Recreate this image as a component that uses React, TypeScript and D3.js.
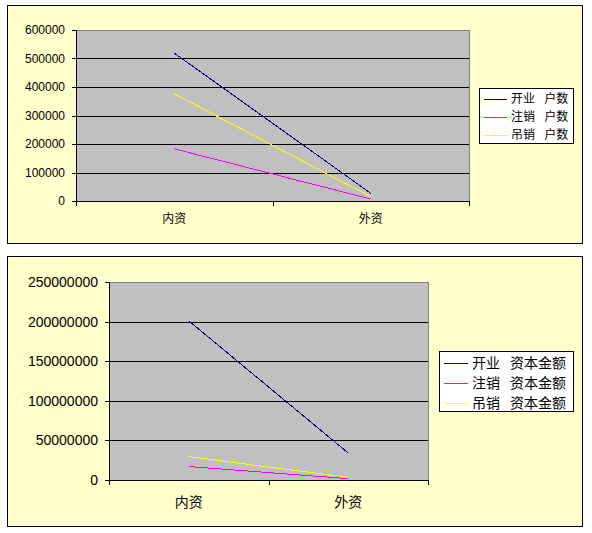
import React from "react";
import * as d3 from "d3";

const categories = ["内资", "外资"];
const seriesNames1 = ["开业 户数", "注销 户数", "吊销 户数"];
const openCount = [519000, 27000];
const cancelCount = [183000, 7000];
const revokeCount = [376000, 15000];
const yTicks1 = [0, 100000, 200000, 300000, 400000, 500000, 600000];

const seriesNames2 = ["开业 资本金额", "注销 资本金额", "吊销 资本金额"];
const openCapital = [201000000, 34000000];
const cancelCapital = [17000000, 1700000];
const revokeCapital = [29500000, 3400000];
const yTicks2 = [0, 50000000, 100000000, 150000000, 200000000, 250000000];

const seriesColors = ["#000080", "#FF00FF", "#FFFF00"];

type Geo = {
  box: [number, number, number, number];
  plot: [number, number, number, number];
  fontSize: number;
  catY: number;
  legend: [number, number, number, number];
  rowY: number[];
  sample: [number, number];
  textX: number;
};

function Chart({ geo, names, data, ticks }: { geo: Geo; names: string[]; data: number[][]; ticks: number[] }) {
  const [L, T, R, B] = geo.plot;
  const x = d3.scaleBand<string>().domain(categories).range([L, R]);
  const y = d3.scaleLinear().domain([0, ticks[ticks.length - 1]]).range([B, T]);
  const line = d3
    .line<number>()
    .x((_, i) => (x(categories[i]) as number) + x.bandwidth() / 2)
    .y((v) => y(v));
  const font = "'Liberation Sans', Arial, 'Noto Sans CJK SC', sans-serif";
  const bx = geo.box;
  const lg = geo.legend;
  return (
    <g fontFamily={font} fontSize={geo.fontSize} fill="#000">
      <rect x={bx[0] + 0.5} y={bx[1] + 0.5} width={bx[2] - bx[0]} height={bx[3] - bx[1]} fill="#FFFFCC" stroke="#000" />
      <rect x={L} y={T} width={R - L} height={B - T} fill="#C0C0C0" />
      <line x1={L} x2={R + 0.5} y1={T + 0.5} y2={T + 0.5} stroke="#808080" />
      <line x1={R + 0.5} x2={R + 0.5} y1={T} y2={B} stroke="#808080" />
      {ticks.slice(1, -1).map((t) => (
        <line key={t} x1={L} x2={R} y1={Math.round(y(t)) + 0.5} y2={Math.round(y(t)) + 0.5} stroke="#000" />
      ))}
      {ticks.map((t) => (
        <g key={"t" + t}>
          <line x1={L - 4} x2={L} y1={Math.round(y(t)) + 0.5} y2={Math.round(y(t)) + 0.5} stroke="#000" />
          <text x={L - 11} y={y(t)} textAnchor="end" dy="0.35em">
            {t}
          </text>
        </g>
      ))}
      <line x1={L + 0.5} x2={L + 0.5} y1={T} y2={B + 1} stroke="#000" />
      <line x1={L} x2={R + 1} y1={B + 0.5} y2={B + 0.5} stroke="#000" />
      {[L, L + x.bandwidth(), R].map((p, i) => (
        <line key={"c" + i} x1={Math.round(p) + 0.5} x2={Math.round(p) + 0.5} y1={B} y2={B + 5} stroke="#000" />
      ))}
      {categories.map((c) => (
        <text key={c} x={(x(c) as number) + x.bandwidth() / 2} y={geo.catY} textAnchor="middle" dy="0.35em">
          {c}
        </text>
      ))}
      {data.map((s, i) => (
        <path key={"s" + i} d={line(s) as string} fill="none" stroke={seriesColors[i]} strokeWidth={1} shapeRendering="crispEdges" />
      ))}
      <rect x={lg[0] + 0.5} y={lg[1] + 0.5} width={lg[2] - lg[0]} height={lg[3] - lg[1]} fill="#FFFFFF" stroke="#000" />
      {names.map((n, i) => {
        const [a, b] = n.split(" ");
        return (
          <g key={n}>
            <line x1={geo.sample[0]} x2={geo.sample[1]} y1={geo.rowY[i] + 0.5} y2={geo.rowY[i] + 0.5} stroke={seriesColors[i]} />
            <text x={geo.textX} y={geo.rowY[i]} dy="0.35em">
              {a}
              <tspan dx={6}>{" " + b}</tspan>
            </text>
          </g>
        );
      })}
    </g>
  );
}

const geo1: Geo = {
  box: [7, 5, 582, 243],
  plot: [76, 30, 469, 201],
  fontSize: 12,
  catY: 219,
  legend: [479, 88, 573, 143],
  rowY: [99, 117, 135],
  sample: [484, 507],
  textX: 511,
};

const geo2: Geo = {
  box: [7, 256, 582, 526],
  plot: [109, 282, 428, 480],
  fontSize: 14,
  catY: 502,
  legend: [439, 351, 573, 411],
  rowY: [363, 383, 403],
  sample: [444, 468],
  textX: 472,
};

export default function App() {
  return (
    <svg width={592} height={533} style={{ position: "absolute", left: 0, top: 0, background: "#fff" }}>
      <Chart geo={geo1} names={seriesNames1} data={[openCount, cancelCount, revokeCount]} ticks={yTicks1} />
      <Chart geo={geo2} names={seriesNames2} data={[openCapital, cancelCapital, revokeCapital]} ticks={yTicks2} />
    </svg>
  );
}
